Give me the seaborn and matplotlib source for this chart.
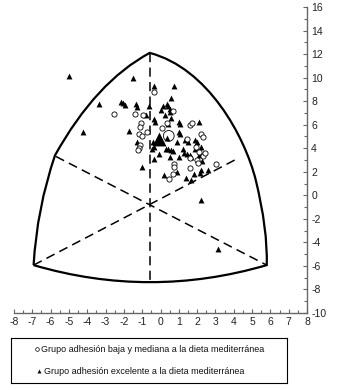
import matplotlib
matplotlib.use("Agg")
import matplotlib.pyplot as plt
import seaborn as sns
from matplotlib.path import Path
from matplotlib.patches import PathPatch
from matplotlib.ticker import MultipleLocator

# grupo adhesion baja y mediana (circulos abiertos)
baja_x = [-2.52, -1.39, -0.97, -0.35, 0.70, -1.08, -1.12, -0.75, -1.16, -0.99, 0.08, 0.34,
          -1.12, -1.17, -1.25, 1.47, 1.61, 1.70, 2.21, 2.30, 1.94, 2.12, 2.34, 2.45,
          1.98, 1.61, 0.74, 0.74, 3.03, 2.07, 1.61, 0.67, 0.47]
baja_y = [6.95, 6.95, 6.80, 8.81, 7.16, 6.17, 5.83, 5.35, 5.20, 5.05, 5.69, 6.12,
          4.27, 3.99, 3.85, 4.80, 5.98, 6.12, 5.21, 4.95, 4.08, 3.70, 3.30, 3.60,
          3.00, 3.14, 2.70, 2.40, 2.66, 2.73, 2.29, 1.78, 1.40]

# grupo adhesion excelente (triangulos)
exc_x = [-5.00, -1.48, -0.33, 0.72, -3.34, -2.17, -2.07, -1.94, -1.34, -1.30, -0.61,
         0.57, 0.16, 0.34, 0.43, 0.52, 0.03, 0.25, 0.52, 0.57, -0.79, -0.35, -0.30,
         1.01, 1.07, 0.43, 2.12, -4.21, -1.72, 1.01, 1.07, 0.34, -0.39, -0.35, -0.45,
         -1.26, 0.30, 0.43, 0.56, 0.70, -0.06, -0.35, 0.52, 1.25, 1.28, 1.00, 1.47,
         1.61, 1.88, 2.12, 2.20, 1.34, 1.52, 1.88, 1.98, 0.88, 2.25, -1.03, 0.17,
         0.92, 1.37, 1.68, 1.85, 2.18, 2.19, 2.61, 2.20, 3.16, 1.67]
exc_y = [10.10, 10.00, 9.29, 9.29, 7.75, 7.96, 7.82, 7.67, 7.73, 7.53, 7.59,
         8.25, 7.60, 7.75, 7.60, 7.30, 7.25, 6.80, 7.05, 6.60, 6.80, 6.50, 6.20,
         6.20, 6.05, 6.10, 6.20, 5.35, 5.47, 5.41, 5.21, 4.84, 4.50, 4.08, 3.95,
         4.56, 3.91, 3.91, 3.85, 3.80, 3.48, 3.09, 3.28, 3.91, 3.57, 3.23, 3.51,
         3.43, 3.91, 3.43, 4.13, 4.70, 4.56, 4.70, 4.50, 4.56, 2.95, 2.43, 1.73,
         1.95, 1.44, 1.30, 1.80, 1.89, 2.15, 2.12, -0.40, -4.57, 3.25]

# medias de cada grupo
media_baja = [0.45, 5.05]
media_exc = [-0.10, 4.75]

etiquetas = ["Grupo adhesión baja y mediana a la dieta mediterránea",
             "Grupo adhesión excelente a la dieta mediterránea"]

sns.set_style("white")
plt.rcParams['font.family'] = ['Liberation Sans', 'DejaVu Sans']
plt.rcParams['axes.unicode_minus'] = False

fig = plt.figure(figsize=(3.38, 3.90), dpi=100)
ax = fig.add_axes([0.0414, 0.1974, 0.867, 0.7846])

# contorno de la somatocarta
verts = [(-6.93, -5.93),
         (-6.755, -1.135), (-5.76, 3.4),
         (-3.525, 9.65), (-0.59, 12.1),
         (2.6, 10.8), (4.6, 5.0), (5.2, 1.3),
         (5.86, -2.9), (5.8, -5.93),
         (-0.575, -8.83), (-6.93, -5.93)]
codes = [Path.MOVETO, Path.CURVE3, Path.CURVE3, Path.CURVE3, Path.CURVE3,
         Path.CURVE4, Path.CURVE4, Path.CURVE4, Path.CURVE3, Path.CURVE3,
         Path.CURVE3, Path.CURVE3]
ax.add_patch(PathPatch(Path(verts, codes), fill=False, lw=1.6, ec='black', zorder=2))

# ejes internos discontinuos
dash = dict(color='black', lw=1.1, dashes=(6, 3.5), zorder=2)
ax.plot([-0.57, -0.57], [12.1, -7.3], **dash)
ax.plot([-5.71, 5.8], [3.3, -5.93], **dash)
ax.plot([-6.93, 4.3], [-5.93, 3.2], **dash)

sns.scatterplot(x=exc_x, y=exc_y, marker='^', color='black', s=18, linewidth=0, ax=ax, zorder=3)
sns.scatterplot(x=baja_x, y=baja_y, marker='o', color='white', edgecolor='black',
                s=14, linewidth=0.6, ax=ax, zorder=4)
sns.scatterplot(x=[media_exc[0]], y=[media_exc[1]], marker='^', color='black', s=100,
                linewidth=0, ax=ax, zorder=5)
sns.scatterplot(x=[media_baja[0]], y=[media_baja[1]], marker='o', color='none',
                edgecolor='black', s=60, linewidth=0.6, ax=ax, zorder=5)

ax.set_xlim(-8, 8)
ax.set_ylim(-10, 16)
ax.xaxis.set_major_locator(MultipleLocator(1))
ax.xaxis.set_minor_locator(MultipleLocator(0.5))
ax.yaxis.set_major_locator(MultipleLocator(2))
ax.yaxis.set_minor_locator(MultipleLocator(1))
ax.yaxis.tick_right()
for s in ['left', 'top']:
    ax.spines[s].set_visible(False)
for s in ['right', 'bottom']:
    ax.spines[s].set_color('#666666')
    ax.spines[s].set_linewidth(1.0)
ax.tick_params(which='both', direction='in', color='#666666', width=0.8,
               labelsize=7.5, labelcolor='#222222')
ax.tick_params(which='major', length=3, pad=3)
ax.tick_params(which='minor', length=2)
ax.tick_params(axis='y', which='both', left=False, right=True)
ax.tick_params(axis='x', which='both', bottom=True, top=False)

# leyenda en recuadro
lg = fig.add_axes([0.0325, 0.018, 0.817, 0.115])
lg.set_xlim(0, 1)
lg.set_ylim(0, 1)
lg.set_xticks([])
lg.set_yticks([])
for s in lg.spines.values():
    s.set_color('black')
    s.set_linewidth(0.8)
lg.scatter([0.094], [0.756], marker='o', s=7, facecolor='white', edgecolor='black', linewidth=0.5)
lg.scatter([0.102], [0.267], marker='^', s=8, color='black', linewidth=0)
lg.text(0.11, 0.756, etiquetas[0], fontsize=6.5, va='center', ha='left', color='#111111')
lg.text(0.118, 0.267, etiquetas[1], fontsize=6.5, va='center', ha='left', color='#111111')

fig.savefig("out.png", dpi=100)
